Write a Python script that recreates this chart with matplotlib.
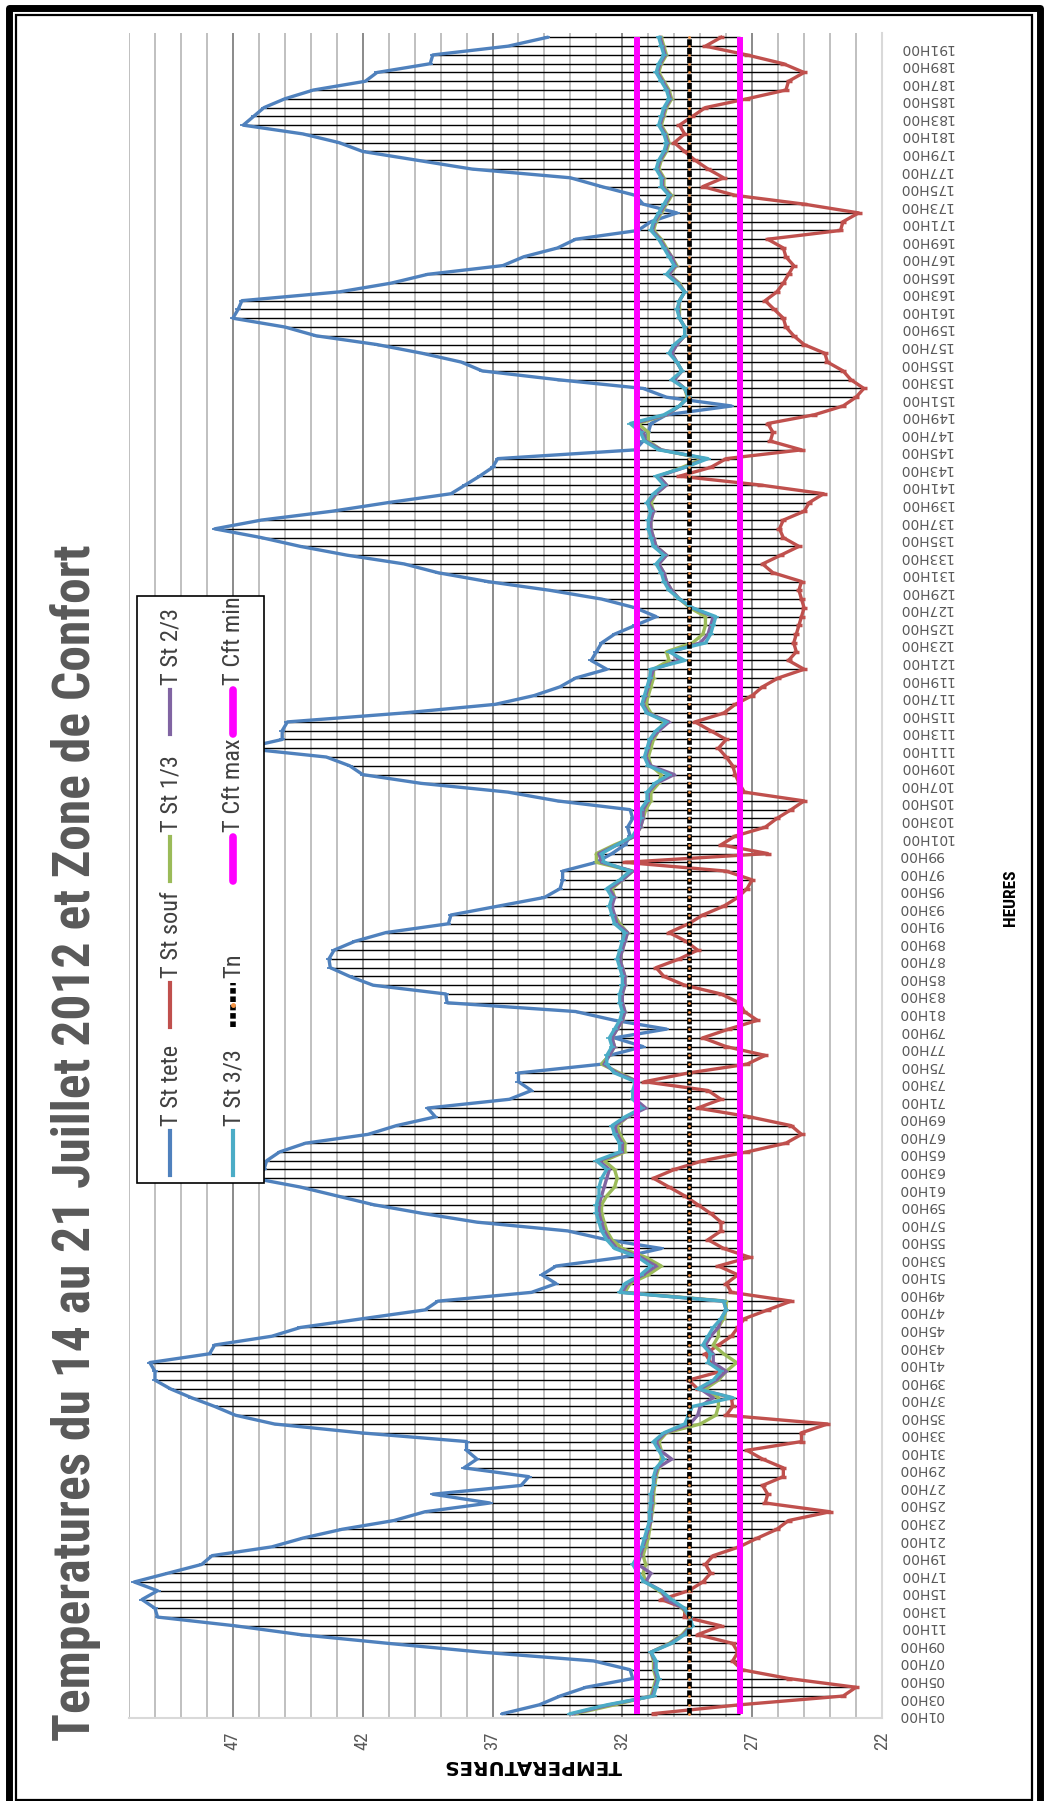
import os
import matplotlib
matplotlib.use("Agg")
import numpy as np
import matplotlib.pyplot as plt
from matplotlib import font_manager
from matplotlib.font_manager import FontProperties
from matplotlib.lines import Line2D
from matplotlib.patches import Rectangle

# ---------------- data ----------------
hours = list(range(1, 193))
hour_labels = [f"{h:02d}H00" for h in hours]
tick_hours = hours[::2]
tick_labels = hour_labels[::2]
temp_ticks = [22, 27, 32, 37, 42, 47]
temp_tick_labels = ["22", "27", "32", "37", "42", "47"]

t_st_tete = [
    36.6, 35.2, 34.4, 33.4, 31.6, 31.7, 33.1, 37.4, 41.0, 44.4, 46.9, 49.9,
    50.0, 50.5, 49.9, 50.8, 49.5, 48.2, 47.8, 45.5, 44.3, 42.8, 40.8, 39.6,
    37.1, 39.3, 35.9, 35.6, 38.1, 37.6, 38.0, 38.0, 42.1, 45.4, 46.9, 47.7,
    48.6, 49.4, 50.0, 50.0, 50.2, 47.9, 47.7, 45.5, 44.4, 42.0, 39.6, 39.1,
    35.5, 34.55, 35.1, 34.55, 32.0, 30.5, 32.6, 34.1, 37.6, 39.7, 41.6, 43.0,
    44.4, 46.2, 45.8, 45.7, 45.2, 44.2, 41.8, 40.7, 39.2, 39.5, 36.35, 35.5,
    36.0, 36.0, 32.8, 32.5, 31.2, 32.3, 30.3, 32.3, 33.8, 38.75, 38.8, 41.6,
    42.5, 43.25, 43.3, 43.1, 42.3, 41.1, 38.7, 38.6, 36.8, 35.0, 34.4, 34.3,
    34.3, 33.0, 32.4, 31.9, 31.7, 31.8, 31.6, 31.7, 34.5, 36.4, 39.75, 42.0,
    42.5, 43.4, 46.6, 45.1, 45.1, 44.9, 40.5, 36.9, 35.4, 34.4, 33.8, 32.6,
    33.2, 33.0, 32.8, 32.3, 31.5, 30.7, 31.5, 32.8, 34.8, 37.2, 39.1, 40.4,
    42.6, 44.4, 45.9, 47.7, 45.9, 43.2, 41.0, 38.6, 38.05, 37.5, 37.0, 36.8,
    31.5, 31.2, 31.0, 30.9, 30.3, 27.8, 30.3, 31.2, 34.5, 37.4, 38.2, 39.7,
    41.45, 43.8, 45.0, 47.0, 46.8, 46.65, 42.9, 40.9, 39.5, 36.6, 35.8, 34.5,
    33.8, 31.4, 30.9, 29.9, 31.2, 31.5, 32.8, 34.0, 37.8, 39.9, 42.0, 42.9,
    44.3, 46.6, 46.2, 45.8, 45.0, 43.9, 41.9, 41.45, 39.4, 39.3, 36.4, 34.9,
]

t_st_souf = [
    30.8, 27.5, 23.5, 23.0, 25.6, 27.4, 27.75, 27.55, 27.75, 29.1, 28.2, 29.6,
    29.6, 30.5, 29.45, 28.9, 28.6, 28.8, 28.5, 27.5, 26.8, 26.05, 25.6, 24.0,
    26.5, 26.4, 26.6, 25.8, 25.8, 26.6, 27.2, 25.1, 25.1, 24.1, 28.0, 27.75,
    27.8, 29.1, 29.45, 28.2, 28.6, 28.8, 28.3, 27.8, 27.55, 27.3, 26.4, 25.5,
    27.8, 28.0, 27.55, 28.3, 27.1, 28.1, 28.7, 28.2, 28.2, 28.6, 29.1, 29.6,
    30.2, 30.8, 30.0, 28.9, 27.2, 25.7, 25.1, 25.5, 27.1, 29.1, 28.2, 28.7,
    31.15, 29.45, 27.2, 26.5, 28.0, 28.9, 27.9, 26.8, 27.3, 27.5, 28.2, 29.6,
    30.4, 30.7, 29.8, 29.1, 29.55, 30.2, 29.45, 28.9, 28.1, 27.55, 27.2, 27.0,
    28.0, 31.9, 26.4, 28.2, 27.65, 26.5, 26.05, 25.5, 25.0, 27.3, 27.5, 27.65,
    27.75, 28.0, 28.3, 28.0, 28.6, 29.2, 28.1, 27.65, 27.0, 26.6, 26.0, 25.0,
    25.6, 25.3, 25.4, 25.3, 25.2, 25.1, 25.0, 25.1, 25.2, 25.1, 26.2, 26.6,
    25.9, 25.2, 25.8, 25.95, 25.8, 25.0, 24.8, 24.25, 26.7, 29.8, 28.6, 28.0,
    25.1, 26.3, 26.2, 26.4, 24.6, 23.5, 23.0, 22.7, 23.2, 23.5, 24.1, 24.2,
    25.0, 25.4, 25.7, 25.8, 26.15, 26.5, 26.05, 25.8, 25.6, 25.4, 25.7, 25.8,
    26.4, 23.6, 23.5, 22.9, 25.0, 27.65, 28.9, 28.1, 28.7, 29.2, 29.6, 30.0,
    29.6, 29.8, 29.3, 28.8, 27.2, 25.7, 25.6, 25.0, 25.8, 27.2, 28.8, 28.2,
]

t_st_1_3 = [
    33.8, 32.3, 30.9, 30.8, 30.7, 30.8, 30.8, 30.9, 30.2, 29.7, 29.4, 29.4,
    29.7, 30.2, 30.6, 31.1, 31.2, 31.1, 31.2, 31.1, 31.0, 30.95, 30.9, 30.85,
    30.8, 30.8, 30.75, 30.7, 30.6, 30.5, 30.5, 30.6, 30.3, 29.0, 28.4, 28.3,
    28.3, 28.8, 28.3, 28.0, 27.6, 28.1, 28.5, 28.3, 28.3, 28.1, 28.0, 28.0,
    31.9, 31.7, 31.0, 30.5, 31.1, 32.0, 32.4, 32.6, 32.7, 32.8, 32.8, 32.6,
    32.3, 32.2, 32.3, 32.7, 31.9, 31.9, 32.1, 32.2, 31.8, 31.3, 31.5, 31.5,
    31.4, 32.1, 32.8, 32.5, 32.3, 32.4, 32.2, 32.0, 31.9, 32.0, 32.0, 31.9,
    31.9, 32.0, 32.1, 32.0, 31.9, 31.8, 32.1, 32.3, 32.5, 32.3, 32.4, 32.0,
    31.6, 33.0, 33.0, 32.3, 31.5, 31.3, 31.2, 31.1, 30.9, 30.9, 30.6, 30.5,
    30.9, 31.0, 30.9, 30.8, 30.6, 30.4, 30.9, 31.1, 31.0, 30.9, 30.8, 30.8,
    30.2, 30.3, 29.3, 28.9, 28.8, 28.8, 29.4, 29.8, 30.1, 30.3, 30.4, 30.6,
    30.3, 30.7, 30.8, 30.9, 30.9, 30.8, 30.9, 30.7, 30.3, 30.6, 29.7, 28.9,
    30.5, 31.0, 31.0, 31.4, 30.3, 29.8, 29.5, 29.6, 30.0, 29.7, 29.9, 30.1,
    29.9, 29.6, 29.6, 29.8, 29.8, 29.8, 29.6, 29.8, 30.2, 29.9, 30.1, 30.3,
    30.5, 30.8, 30.7, 30.5, 30.3, 30.1, 30.4, 30.4, 30.6, 30.5, 30.3, 30.2,
    30.3, 30.5, 30.4, 30.3, 30.1, 30.2, 30.4, 30.6, 30.5, 30.3, 30.4, 30.5,
]

t_st_2_3 = [
    33.9, 32.5, 30.85, 30.75, 30.65, 30.75, 30.75, 30.9, 30.15, 29.65, 29.35, 29.4,
    29.65, 30.3, 30.5, 31.1, 30.9, 31.4, 31.3, 31.2, 31.1, 31.0, 30.9, 30.9,
    30.85, 30.85, 30.8, 30.75, 30.65, 30.1, 30.55, 30.7, 30.35, 29.4, 29.1, 29.0,
    28.5, 29.0, 28.4, 28.0, 28.5, 28.5, 28.8, 28.6, 28.3, 28.2, 28.0, 28.1,
    32.0, 31.8, 31.2, 30.7, 31.3, 32.2, 32.5, 32.7, 32.8, 32.9, 32.9, 32.8,
    32.7, 32.6, 32.5, 32.9, 32.0, 32.0, 32.2, 32.3, 31.8, 31.1, 31.5, 31.5,
    31.4, 32.2, 32.7, 32.5, 32.3, 32.4, 32.2, 32.0, 31.9, 32.0, 32.0, 31.9,
    31.9, 32.0, 32.1, 32.0, 31.9, 31.8, 32.2, 32.3, 32.4, 32.3, 32.5, 32.0,
    31.6, 32.8, 32.9, 32.2, 31.5, 31.3, 31.2, 31.2, 31.0, 31.0, 30.7, 30.0,
    30.9, 31.1, 31.0, 30.9, 30.6, 30.2, 31.0, 31.2, 31.1, 31.0, 30.9, 30.8,
    29.8, 30.1, 29.0, 28.7, 28.6, 28.5, 29.3, 29.8, 30.1, 30.3, 30.4, 30.6,
    30.3, 30.7, 30.8, 30.9, 30.9, 30.8, 31.0, 30.7, 30.3, 30.6, 29.6, 28.8,
    30.5, 31.1, 31.2, 31.6, 30.3, 29.8, 29.45, 29.6, 30.0, 29.7, 29.9, 30.1,
    29.9, 29.6, 29.6, 29.8, 29.85, 29.8, 29.6, 29.85, 30.2, 29.95, 30.1, 30.35,
    30.55, 30.85, 30.75, 30.55, 30.35, 30.15, 30.45, 30.45, 30.65, 30.55, 30.35, 30.25,
    30.35, 30.55, 30.45, 30.35, 30.15, 30.25, 30.45, 30.65, 30.55, 30.35, 30.45, 30.55,
]

t_st_3_3 = [
    34.0, 32.6, 30.8, 30.7, 30.6, 30.7, 30.7, 30.9, 30.1, 29.6, 29.3, 29.4,
    29.6, 30.1, 30.5, 31.15, 31.4, 31.6, 31.4, 31.25, 31.15, 31.05, 30.95, 30.95,
    30.9, 30.9, 30.8, 30.8, 30.7, 30.4, 30.6, 30.8, 30.4, 29.6, 29.45, 29.3,
    27.75, 29.1, 28.5, 28.2, 28.7, 28.6, 28.9, 28.7, 28.5, 28.2, 28.0, 28.1,
    32.1, 31.9, 31.3, 30.9, 31.4, 32.3, 32.6, 32.8, 32.9, 33.0, 33.0, 32.9,
    32.9, 32.8, 32.6, 33.0, 32.1, 32.1, 32.3, 32.4, 31.9, 31.25, 31.6, 31.6,
    31.5, 32.3, 32.6, 32.6, 32.4, 32.5, 32.3, 32.1, 32.0, 32.1, 32.1, 32.0,
    32.0, 32.1, 32.2, 32.1, 32.0, 31.9, 32.3, 32.4, 32.5, 32.4, 32.6, 32.1,
    31.7, 32.7, 32.8, 32.2, 31.6, 31.4, 31.3, 31.3, 31.05, 31.05, 30.75, 30.2,
    31.0, 31.15, 31.05, 30.95, 30.7, 30.3, 31.05, 31.25, 31.15, 31.05, 30.95, 30.9,
    29.6, 30.2, 28.8, 28.6, 28.5, 28.4, 29.3, 29.8, 30.2, 30.4, 30.5, 30.7,
    30.4, 30.8, 30.9, 31.0, 31.0, 30.9, 31.05, 30.8, 30.4, 30.7, 29.6, 28.7,
    30.6, 31.15, 31.3, 31.7, 30.4, 29.8, 29.45, 29.6, 30.1, 29.7, 29.9, 30.2,
    30.0, 29.6, 29.6, 29.8, 29.9, 29.8, 29.6, 29.9, 30.3, 30.0, 30.2, 30.4,
    30.6, 30.9, 30.8, 30.6, 30.4, 30.2, 30.5, 30.5, 30.7, 30.6, 30.4, 30.3,
    30.4, 30.6, 30.5, 30.4, 30.2, 30.3, 30.5, 30.7, 30.6, 30.4, 30.5, 30.6,
]

tn = [29.45] * 192
t_cft_max = [31.45] * 192
t_cft_min = [27.45] * 192

series_names = ["T St tete", "T St souf", "T St 1/3", "T St 2/3", "T St 3/3",
                "Tn", "T Cft max", "T Cft min"]
title = "Temperatures du 14 au 21 Juillet 2012 et Zone de Confort"

# ---------------- styling ----------------
C_TETE = "#4f81bd"
C_SOUF = "#c0504d"
C_13 = "#9bbb59"
C_23 = "#8064a2"
C_33 = "#4bacc6"
C_TN_MK = "#f79646"
C_CFT = "#ff00ff"
GRAY_TXT = "#595959"


def condensed_file(bold):
    """Path of a plain (not extra/semi) condensed sans face, or None."""
    prefs = ["liberationsansnarrow", "robotocondensed", "notosans-condensed",
             "notosanscondensed", "dejavusanscondensed", "opensans-condensed",
             "opensanscondensed", "opensans_condensed"]
    bad = ("extra", "ultra", "semi", "italic", "oblique", "light", "thin",
           "black", "medium", "heavy")
    found = {}
    for f in font_manager.fontManager.ttflist:
        fn = os.path.basename(f.fname).lower()
        if not ("condensed" in fn or "narrow" in fn):
            continue
        if any(k in fn for k in bad):
            continue
        if ("bold" in fn) != bold:
            continue
        for i, p in enumerate(prefs):
            if fn.startswith(p):
                found.setdefault(i, f.fname)
    return found[min(found)] if found else None


_reg = condensed_file(False)
_bold = condensed_file(True)
FP_NARROW = FontProperties(fname=_reg) if _reg else FontProperties(family="DejaVu Sans")
FP_NARROW_BOLD = (FontProperties(fname=_bold) if _bold
                  else FontProperties(family="DejaVu Sans", weight="bold"))
FP_WIDE = FontProperties(family="DejaVu Sans")
FP_WIDE_BOLD = FontProperties(family="DejaVu Sans", weight="bold")

W, H = 1048, 1801
fig = plt.figure(figsize=(W / 100, H / 100), dpi=100)
fig.patch.set_facecolor("white")


def fx(px):
    return px / W


def fy(py):
    return 1 - py / H


# plot area (rotated chart: temperature runs along x, hours along y)
PL, PR, PT, PB = 129, 882, 33, 1718
ax = fig.add_axes([fx(PL), fy(PB), (PR - PL) / W, (PB - PT) / H])
ax.set_xlim(51, 22)
ax.set_ylim(0.5, 192.5)

ax.set_xticks(temp_ticks)
ax.set_xticks(range(22, 52), minor=True)
ax.set_xticklabels(temp_tick_labels, rotation=90, fontproperties=FP_NARROW,
                   size=13.5, color=GRAY_TXT)
ax.grid(True, which="minor", axis="x", color="#c0c0c0", lw=1.4)
ax.grid(True, which="major", axis="x", color="#8a8a8a", lw=1.4)
ax.set_axisbelow(True)
ax.tick_params(axis="x", which="both", length=0, pad=10)

ax.yaxis.tick_right()
ax.set_yticks(tick_hours)
ax.set_yticklabels(tick_labels, rotation=180, fontproperties=FP_WIDE,
                   size=10, color=GRAY_TXT)
ax.tick_params(axis="y", length=0, pad=12)

for s in ("left", "top"):
    ax.spines[s].set_visible(False)
for s in ("right", "bottom"):
    ax.spines[s].set_color("#d9d9d9")
    ax.spines[s].set_linewidth(1.5)

# high-low lines between the extreme series at each hour
all_series = np.array([t_st_tete, t_st_souf, t_st_1_3, t_st_2_3, t_st_3_3,
                       tn, t_cft_max, t_cft_min])
hi = all_series.max(axis=0)
lo = all_series.min(axis=0)
ax.hlines(hours, lo, hi, color="black", lw=1.0, zorder=2)

line_kw = dict(lw=2.4, solid_joinstyle="round", clip_on=False)
ax.plot(t_st_tete, hours, color=C_TETE, marker="_", ms=4, mew=1.3, zorder=3, **line_kw)
ax.plot(t_st_souf, hours, color=C_SOUF, marker="_", ms=5, mew=2.5, zorder=4, **line_kw)
ax.plot(t_st_1_3, hours, color=C_13, marker="_", ms=3, mew=1.0, zorder=5, **line_kw)
ax.plot(t_st_2_3, hours, color=C_23, marker="_", ms=3, mew=1.0, zorder=6, **line_kw)
ax.plot(t_st_3_3, hours, color=C_33, marker="_", ms=4, mew=1.2, zorder=7, **line_kw)
ax.plot(tn, hours, color="black", lw=3.4, linestyle=(0, (1.4, 0.45)), zorder=8)
ax.plot(tn, hours, ls="none", marker="o", ms=2.0, color=C_TN_MK, mew=0, zorder=9)
ax.plot(t_cft_max, hours, color=C_CFT, lw=4.3, zorder=10, solid_capstyle="butt")
ax.plot(t_cft_min, hours, color=C_CFT, lw=4.3, zorder=11, solid_capstyle="butt")

renderer = fig.canvas.get_renderer()


def fit(txt, length_px, thick_px=None, along="y", weight_len=0.5):
    """Size a text towards a target length and, optionally, a thickness."""
    bb = txt.get_window_extent(renderer)
    cur_len = bb.height if along == "y" else bb.width
    cur_th = bb.width if along == "y" else bb.height
    s = txt.get_fontsize()
    s_len = s * length_px / cur_len
    if thick_px is None:
        txt.set_fontsize(s_len)
    else:
        s_th = s * thick_px / cur_th
        txt.set_fontsize(float(s_len ** weight_len * s_th ** (1 - weight_len)))
    return txt


# title, axis titles
t = fig.text(fx(90), fy(1741), title, rotation=90, rotation_mode="anchor",
             ha="left", va="baseline", fontproperties=FP_NARROW_BOLD, size=30,
             color=GRAY_TXT)
fit(t, 1276, 40, weight_len=0.8)

t = fig.text(fx(1011), fy(898), "HEURES", rotation=90, ha="center", va="center",
             fontproperties=FP_NARROW_BOLD, size=10, color="black")
fit(t, 52, 19)

t = fig.text(fx(533), fy(1765), "TEMPERATURES", rotation=180, ha="center",
             va="center", fontproperties=FP_WIDE_BOLD, size=12, color="black")
fit(t, 177, along="x")

# legend box
fig.add_artist(Rectangle((fx(137), fy(1183)), (264 - 137) / W, (1183 - 596) / H,
                         transform=fig.transFigure, fill=True, facecolor="white",
                         edgecolor="black", lw=1.2, zorder=20))

legend_entries = [
    # (name, column x, handle centre y, style)
    (series_names[0], 170, 1153, dict(color=C_TETE, lw=3.0)),
    (series_names[1], 170, 1005, dict(color=C_SOUF, lw=3.0)),
    (series_names[2], 170, 859, dict(color=C_13, lw=3.0)),
    (series_names[3], 170, 712, dict(color=C_23, lw=3.0)),
    (series_names[4], 233, 1153, dict(color=C_33, lw=3.0)),
    (series_names[5], 233, 1005, dict(color="black", lw=4.0, ls=(0, (1.0, 0.5)))),
    (series_names[6], 233, 859, dict(color=C_CFT, lw=5.5, solid_capstyle="round")),
    (series_names[7], 233, 712, dict(color=C_CFT, lw=5.5, solid_capstyle="round")),
]
HANDLE = 44
leg_size = None
for name, cx, cy, style in legend_entries:
    fig.add_artist(Line2D([fx(cx), fx(cx)], [fy(cy + HANDLE / 2), fy(cy - HANDLE / 2)],
                          transform=fig.transFigure, zorder=21, **style))
    if name == "Tn":
        fig.add_artist(Line2D([fx(cx)], [fy(cy)], transform=fig.transFigure,
                              marker="o", ms=2.5, color=C_TN_MK, ls="none", zorder=22))
    txt = fig.text(fx(cx + 1), fy(cy - HANDLE / 2 - 5), name, rotation=90,
                   rotation_mode="anchor", ha="left", va="center",
                   fontproperties=FP_NARROW, size=12, color="#404040", zorder=22)
    if leg_size is None:
        fit(txt, 74, 24)
        leg_size = txt.get_fontsize()
    else:
        txt.set_fontsize(leg_size)

# double frame around the chart
fig.add_artist(Rectangle((fx(8.5), fy(1830)), (1039.5 - 8.5) / W, (1830 - 8.5) / H,
                         transform=fig.transFigure, fill=False, edgecolor="black",
                         lw=5.0, joinstyle="round", zorder=30))
fig.add_artist(Rectangle((fx(15.5), fy(1799.5)), (1031.5 - 15.5) / W, (1799.5 - 15.5) / H,
                         transform=fig.transFigure, fill=False, edgecolor="black",
                         lw=1.6, zorder=30))

fig.savefig("out.png", dpi=100, facecolor="white")
